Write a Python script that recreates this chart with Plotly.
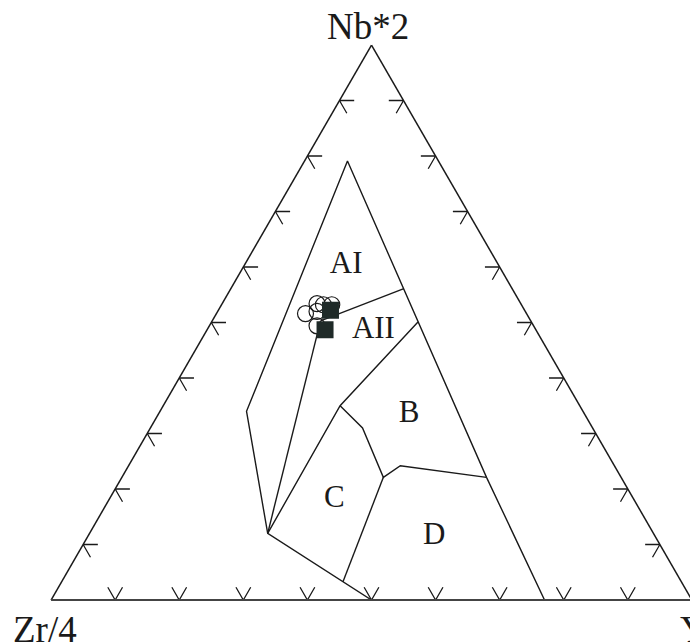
import plotly.graph_objects as go

# Meschede (1986) Nb*2 - Zr/4 - Y discrimination diagram
# all points given as (Nb*2, Zr/4, Y) in percent

tick_vals = [10, 20, 30, 40, 50, 60, 70, 80, 90]
tick_len = 2.3

# field boundaries
outer_line = [(0, 50, 50), (12.0, 60.2, 27.8), (34.0, 52.5, 13.5), (79.1, 14.2, 6.7),
              (22.1, 21.0, 56.9), (0, 23.0, 77.0)]
ai_left = [(12.0, 60.2, 27.8), (50.3, 32.8, 16.9)]
ai_aii = [(50.3, 32.8, 16.9), (56.1, 16.9, 27.0)]
aii_b = [(50.1, 17.7, 32.2), (35.0, 37.4, 27.6), (12.0, 60.2, 27.8)]
b_c_d = [(35.0, 37.4, 27.6), (31.0, 35.9, 33.1), (22.1, 37.1, 40.8), (24.2, 33.4, 42.4),
         (22.1, 21.0, 56.9)]
c_d = [(22.1, 37.1, 40.8), (3.3, 52.8, 43.9)]

field_names = ['AI', 'AII', 'B', 'C', 'D']
field_nb = [60.3, 48.6, 33.5, 18.2, 11.4]
field_zr = [23.8, 25.4, 27.4, 46.7, 34.5]
field_y = [15.9, 26.0, 39.1, 35.1, 54.1]

# samples
circ_nb = [51.6, 53.4, 52.0, 53.2, 53.2, 49.4]
circ_zr = [34.5, 31.8, 32.5, 30.9, 29.6, 33.8]
circ_y = [13.9, 14.8, 15.5, 15.9, 17.2, 16.8]
sq_nb = [52.2, 48.7]
sq_zr = [30.3, 32.9]
sq_y = [17.5, 18.4]

ink = '#1a1a1a'
serif = 'Liberation Serif, Times New Roman, serif'

fig = go.Figure()

# tick marks: two short grid stubs going inward from every tick
ta, tb, tc = [], [], []
L = tick_len
for t in tick_vals:
    # bottom edge (Nb = 0)
    zr, y = 100 - t, t
    ta += [L, 0, L, None]
    tb += [zr, zr, zr - L, None]
    tc += [y - L, y, y, None]
    # left edge (Y = 0)
    nb, zr = t, 100 - t
    ta += [nb, nb, nb - L, None]
    tb += [zr - L, zr, zr, None]
    tc += [L, 0, L, None]
    # right edge (Zr = 0)
    nb, y = t, 100 - t
    ta += [nb, nb, nb - L, None]
    tb += [L, 0, L, None]
    tc += [y - L, y, y, None]

fig.add_trace(go.Scatterternary(a=ta, b=tb, c=tc, mode='lines',
                                line=dict(color=ink, width=1.3),
                                showlegend=False, hoverinfo='skip'))

for seg in [outer_line, ai_left, ai_aii, aii_b, b_c_d, c_d]:
    fig.add_trace(go.Scatterternary(
        a=[p[0] for p in seg], b=[p[1] for p in seg], c=[p[2] for p in seg],
        mode='lines', line=dict(color=ink, width=1.4),
        showlegend=False, hoverinfo='skip'))

fig.add_trace(go.Scatterternary(
    a=field_nb, b=field_zr, c=field_y, mode='text', text=field_names,
    textposition='middle center',
    textfont=dict(family=serif, size=31, color=ink),
    showlegend=False, hoverinfo='skip'))

fig.add_trace(go.Scatterternary(
    a=circ_nb, b=circ_zr, c=circ_y, mode='markers',
    marker=dict(symbol='circle-open', size=16, color=ink, line=dict(width=1.2)),
    showlegend=False))

fig.add_trace(go.Scatterternary(
    a=sq_nb, b=sq_zr, c=sq_y, mode='markers',
    marker=dict(symbol='square', size=17, color='#1f2a28'),
    showlegend=False))

axis_style = dict(showline=True, linecolor=ink, linewidth=1.5, showgrid=False,
                  showticklabels=False, ticks='', title=dict(text=''))

# the page body keeps an 8px margin, so the figure is a bit smaller
fig.update_layout(
    width=690, height=635,
    margin=dict(l=43, r=6, t=37, b=43),
    paper_bgcolor='white',
    ternary=dict(
        sum=100,
        bgcolor='white',
        aaxis=axis_style,
        baxis=dict(axis_style, linecolor='#444', linewidth=2),
        caxis=axis_style,
    ),
    font=dict(family=serif, color=ink),
    annotations=[
        dict(text='Nb*2', x=0.4945, y=1.034, xref='paper', yref='paper',
             xanchor='center', yanchor='middle', showarrow=False,
             font=dict(family=serif, size=37, color=ink)),
        dict(text='Zr/4', x=-0.0094, y=-0.053, xref='paper', yref='paper',
             xanchor='center', yanchor='middle', showarrow=False,
             font=dict(family=serif, size=37, color=ink)),
        dict(text='Y', x=0.9786, y=-0.053, xref='paper', yref='paper',
             xanchor='left', yanchor='middle', showarrow=False,
             font=dict(family=serif, size=37, color=ink)),
    ],
)

fig.write_html('out.html')
